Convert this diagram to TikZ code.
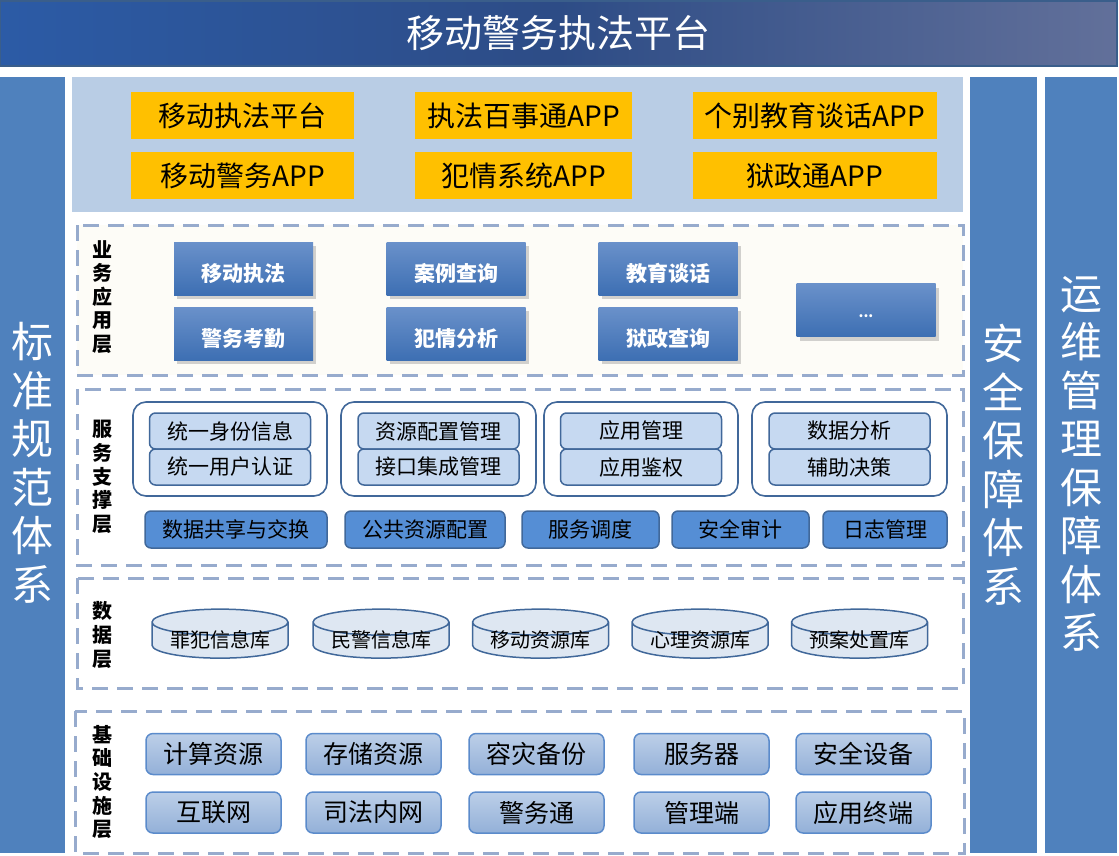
\documentclass[tikz,border=0pt]{standalone}
\usepackage{fontspec}
\setmainfont{Noto Sans CJK SC}
\usepackage{xcolor}
\usetikzlibrary{shapes.geometric}
\usetikzlibrary{shadows}
\definecolor{barblue}{HTML}{4F81BD}
\definecolor{topbg}{HTML}{B9CDE5}
\definecolor{appyellow}{HTML}{FFC000}
\definecolor{dashblue}{HTML}{97ABCD}
\definecolor{cream}{HTML}{FDFCF7}
\definecolor{edgeblue}{HTML}{41689A}
\definecolor{subfill}{HTML}{C6D9F1}
\definecolor{basefill}{HTML}{558ED5}
\definecolor{dbfill}{HTML}{DEE7F2}
\definecolor{infedge}{HTML}{5B8BCB}
\definecolor{biztop}{HTML}{6A91CA}
\definecolor{bizbot}{HTML}{3D6FB3}
\definecolor{inftop}{HTML}{BCCFE8}
\definecolor{infbot}{HTML}{93B0D8}
\definecolor{titleL}{HTML}{2C5BA6}
\definecolor{titleM}{HTML}{2D4C86}
\definecolor{titleR}{HTML}{62709A}
\newcommand{\dblabel}[1]{\raisebox{-7pt}[0pt][0pt]{#1}}
\tikzset{
sidebar/.style={
  fill=barblue,
  text=white,
  align=center,
  font=\fontsize{42}{48.5}\selectfont
},
appbox/.style={
  fill=appyellow,
  minimum height=47pt,
  inner sep=0pt,
  font=\fontsize{28}{32}\selectfont
},
layer/.style={
  draw=dashblue,
  line width=3pt,
  dash pattern=on 16pt off 9pt
},
layername/.style={
  align=center,
  inner sep=0pt,
  font=\bfseries\fontsize{20}{23.6}\selectfont
},
bizbox/.style={
  top color=biztop,
  bottom color=bizbot,
  minimum width=139pt,
  minimum height=53pt,
  inner sep=0pt,
  text=white,
  text height=26pt,
  text depth=0pt,
  font=\bfseries\fontsize{21}{24}\selectfont,
  drop shadow={opacity=0.35,shadow xshift=3pt,shadow yshift=-4pt}
},
grpbox/.style={
  draw=edgeblue,
  fill=white,
  line width=1.6pt,
  rounded corners=13pt,
  minimum height=94pt
},
subbox/.style={
  draw=edgeblue,
  fill=subfill,
  line width=1.5pt,
  rounded corners=6pt,
  minimum width=161pt,
  minimum height=36pt,
  inner sep=0pt,
  font=\fontsize{21}{24}\selectfont
},
basebox/.style={
  draw=edgeblue,
  fill=basefill,
  line width=1.5pt,
  rounded corners=6pt,
  minimum height=37pt,
  inner sep=0pt,
  font=\fontsize{21}{24}\selectfont
},
dbase/.style={
  cylinder,
  shape border rotate=90,
  aspect=0.26,
  draw=edgeblue,
  fill=dbfill,
  line width=1.5pt,
  minimum width=136pt,
  minimum height=49pt,
  inner sep=0pt,
  font=\fontsize{20}{23}\selectfont
},
infbox/.style={
  draw=infedge,
  top color=inftop,
  bottom color=infbot,
  line width=1.5pt,
  rounded corners=7pt,
  minimum width=135pt,
  minimum height=41pt,
  inner sep=0pt,
  font=\fontsize{25}{28}\selectfont
},
}

\begin{document}
\begin{tikzpicture}[x=1pt,y=-1pt]
\useasboundingbox (0,0) rectangle (1119,855);
% the title bar
\node[draw=edgeblue!90!black, line width=2pt,
  left color=titleL, right color=titleR, middle color=titleM,
  minimum width=1117pt, minimum height=65pt, inner sep=0pt,
  text=white, font=\fontsize{38}{42}\selectfont]
  (title) at (558.5,33) {移动警务执法平台};
% the side bars
\fill[barblue] (0,77) rectangle (65,853);
\fill[barblue] (970,77) rectangle (1037,853);
\fill[barblue] (1045,77) rectangle (1117,853);
\node[sidebar] (std) at (32.5,463) {标\\准\\规\\范\\体\\系};
\node[sidebar] (safe) at (1003.5,465) {安\\全\\保\\障\\体\\系};
\node[sidebar] (ops) at (1081,464) {运\\维\\管\\理\\保\\障\\体\\系};
% the app layer
\fill[topbg] (72,77) rectangle (963,212);
\foreach \cx/\w/\ta/\tb [count=\i] in
  {242.5/223/移动执法平台/移动警务APP,
   523.5/217/执法百事通APP/犯情系统APP,
   815/244/个别教育谈话APP/狱政通APP}
{
  \node[appbox, minimum width=\w pt] (app-1-\i) at (\cx,115.5) {\ta};
  \node[appbox, minimum width=\w pt] (app-2-\i) at (\cx,175.5) {\tb};
}
% the business layer
\draw[layer, fill=cream] (77,225) rectangle (963,375);
\node[layername] (biz) at (102,297) {业\\务\\应\\用\\层};
\foreach \cx/\ta/\tb [count=\i] in
  {243.5/移动执法/警务考勤, 456/案例查询/犯情分析, 668/教育谈话/狱政查询}
{
  \node[bizbox] (biz-1-\i) at (\cx,268.5) {\ta};
  \node[bizbox] (biz-2-\i) at (\cx,333.5) {\tb};
}
\node[bizbox, text height=14pt, font=\bfseries\fontsize{14}{16}\selectfont]
  (biz-more) at (866,310) {...};
% the service layer
\draw[layer] (77,389) rectangle (963,565);
\node[layername] (srv) at (102,477) {服\\务\\支\\撑\\层};
\foreach \cx/\w/\ta/\tb [count=\i] in
  {230/194/统一身份信息/统一用户认证,
   438.5/195/资源配置管理/接口集成管理,
   641/194/应用管理/应用鉴权,
   849.5/195/数据分析/辅助决策}
{
  \node[grpbox, minimum width=\w pt] (grp-\i) at (\cx,449) {};
  \node[subbox] (sub-1-\i) at (\cx,431) {\ta};
  \node[subbox] (sub-2-\i) at (\cx,467) {\tb};
}
\foreach \cx/\w/\t [count=\i] in
  {236/182/数据共享与交换, 425/160/公共资源配置, 590.5/137/服务调度,
   740.5/137/安全审计, 885/124/日志管理}
  \node[basebox, minimum width=\w pt] (base-\i) at (\cx,529.5) {\t};
% the data layer
\draw[layer] (77,578) rectangle (963,688);
\node[layername] (dat) at (102,635) {数\\据\\层};
\foreach \cx/\t [count=\i] in
  {220/罪犯信息库, 381/民警信息库, 540.5/移动资源库, 700/心理资源库, 859.5/预案处置库}
  \node[dbase] (db-\i) at (\cx,640.5) {\dblabel{\t}};
% the infrastructure layer
\draw[layer] (75,711) rectangle (964,853);
\node[layername] (inf) at (102,782) {基\\础\\设\\施\\层};
\foreach \cx/\ta/\tb [count=\i] in
  {213.5/计算资源/互联网, 373.5/存储资源/司法内网, 536.5/容灾备份/警务通,
   701.5/服务器/管理端, 863.5/安全设备/应用终端}
{
  \node[infbox] (inf-1-\i) at (\cx,754) {\ta};
  \node[infbox] (inf-2-\i) at (\cx,812.5) {\tb};
}
\end{tikzpicture}
\end{document}
